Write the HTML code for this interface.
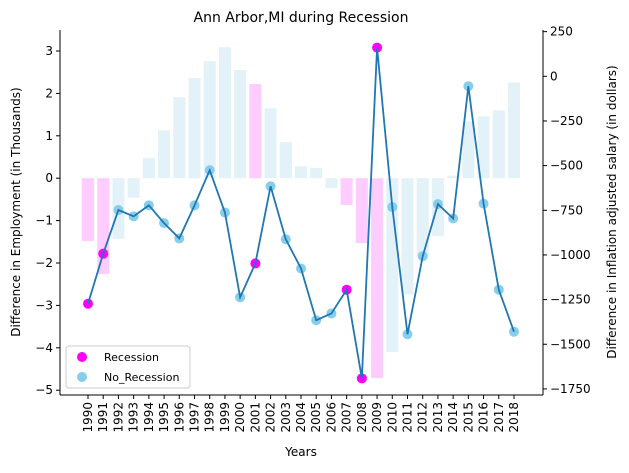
<!DOCTYPE html>
<html><head><meta charset="utf-8"><style>
body{margin:0;background:#fff;font-family:"DejaVu Sans","Liberation Sans",sans-serif}
</style></head><body>
<svg id="chart" width="629" height="469" xmlns="http://www.w3.org/2000/svg" font-family="DejaVu Sans, Liberation Sans, sans-serif">
<text x="301" y="22" text-anchor="middle" font-size="14">Ann Arbor,MI during Recession</text>
<g id="bars"></g>
<g id="line"></g>
<g id="axes"></g>
<text x="301" y="456" text-anchor="middle" font-size="12">Years</text>
<text transform="translate(20,212) rotate(-90)" text-anchor="middle" font-size="12">Difference in Employment (in Thousands)</text>
<text transform="translate(616,212) rotate(-90)" text-anchor="middle" font-size="12">Difference in Inflation adjusted salary (in dollars)</text>
<g>
<rect x="66" y="346" width="124" height="42" rx="3" fill="#fff" stroke="#ccc"/>
<circle cx="82" cy="357" r="5" fill="#ff00ff"/>
<text x="104" y="361" font-size="11">Recession</text>
<circle cx="82" cy="377" r="5" fill="#87ceeb"/>
<text x="104" y="381" font-size="11">No_Recession</text>
</g>
</svg>
<script>
const years=[1990,1991,1992,1993,1994,1995,1996,1997,1998,1999,2000,2001,2002,2003,2004,2005,2006,2007,2008,2009,2010,2011,2012,2013,2014,2015,2016,2017,2018];
const employment=[-2.96,-1.78,-0.75,-0.90,-0.64,-1.06,-1.42,-0.64,0.19,-0.81,-2.81,-2.01,-0.19,-1.44,-2.13,-3.35,-3.19,-2.63,-4.72,3.08,-0.68,-3.68,-1.84,-0.61,-0.95,2.17,-0.60,-2.63,-3.62];
const salaryBars=[-1.48,-2.26,-1.43,-0.46,0.48,1.13,1.91,2.36,2.76,3.09,2.55,2.22,1.65,0.85,0.28,0.24,-0.23,-0.63,-1.53,-4.71,-4.10,-2.74,-1.85,-1.36,0.06,1.34,1.46,1.60,2.26];
const recessionYears=[1990,1991,2001,2007,2008,2009];
const leftTicks=[3,2,1,0,-1,-2,-3,-4,-5];
const rightTicks=[250,0,-250,-500,-750,-1000,-1250,-1500,-1750];

const NS="http://www.w3.org/2000/svg";
const L=60,R=543,T=30,B=395;
const x=y=>88+(y-1990)*(514-88)/28;
const yL=v=>178.2-v*42.4;
const yR=v=>76.3-v*44.66/250;
function mk(tag,attrs,parent){const e=document.createElementNS(NS,tag);for(const k in attrs)e.setAttribute(k,attrs[k]);parent.appendChild(e);return e;}
const gb=document.getElementById('bars'),gl=document.getElementById('line'),ga=document.getElementById('axes');
years.forEach((yr,i)=>{
  const v=salaryBars[i],rec=recessionYears.includes(yr);
  const y0=yL(0),y1=yL(v);
  const r=mk('rect',{x:x(yr)-6,y:Math.min(y0,y1),width:12,height:Math.abs(y1-y0),fill:rec?'#ffccff':'#e3f2f9'},gb);
  
  
});
const pts=years.map((yr,i)=>x(yr)+','+yL(employment[i])).join(' ');
years.forEach((yr,i)=>{
  const rec=recessionYears.includes(yr);
  const c=mk('circle',{cx:x(yr),cy:yL(employment[i]),r:5,fill:rec?'#ff00ff':'#87ceeb'},gl);
  
  
});
const pl=mk('polyline',{points:pts,fill:'none',stroke:'#1f77b4','stroke-width':1.8},gl);


mk('line',{x1:L,y1:T,x2:L,y2:B,stroke:'#000','stroke-width':1},ga);
mk('line',{x1:R,y1:T,x2:R,y2:B,stroke:'#000','stroke-width':1},ga);
mk('line',{x1:L,y1:B,x2:R,y2:B,stroke:'#000','stroke-width':1},ga);
leftTicks.forEach(t=>{
  const y=yL(t);
  mk('line',{x1:L-4,y1:y,x2:L,y2:y,stroke:'#000'},ga);
  const tx=mk('text',{x:L-7,y:y+4,'text-anchor':'end','font-size':12},ga);tx.textContent=t<0?'\u2212'+(-t):t;
  
  
});
rightTicks.forEach(t=>{
  const y=yR(t);
  mk('line',{x1:R,y1:y,x2:R+4,y2:y,stroke:'#000'},ga);
  const tx=mk('text',{x:R+7,y:y+4,'font-size':12},ga);tx.textContent=t<0?'\u2212'+(-t):t;
  
  
});
years.forEach(yr=>{
  const xx=x(yr);
  mk('line',{x1:xx,y1:B,x2:xx,y2:B+4,stroke:'#000'},ga);
  const tx=mk('text',{transform:`translate(${xx+4},${B+7}) rotate(-90)`,'text-anchor':'end','font-size':12},ga);tx.textContent=yr;
  
  
});
</script>
</body></html>
